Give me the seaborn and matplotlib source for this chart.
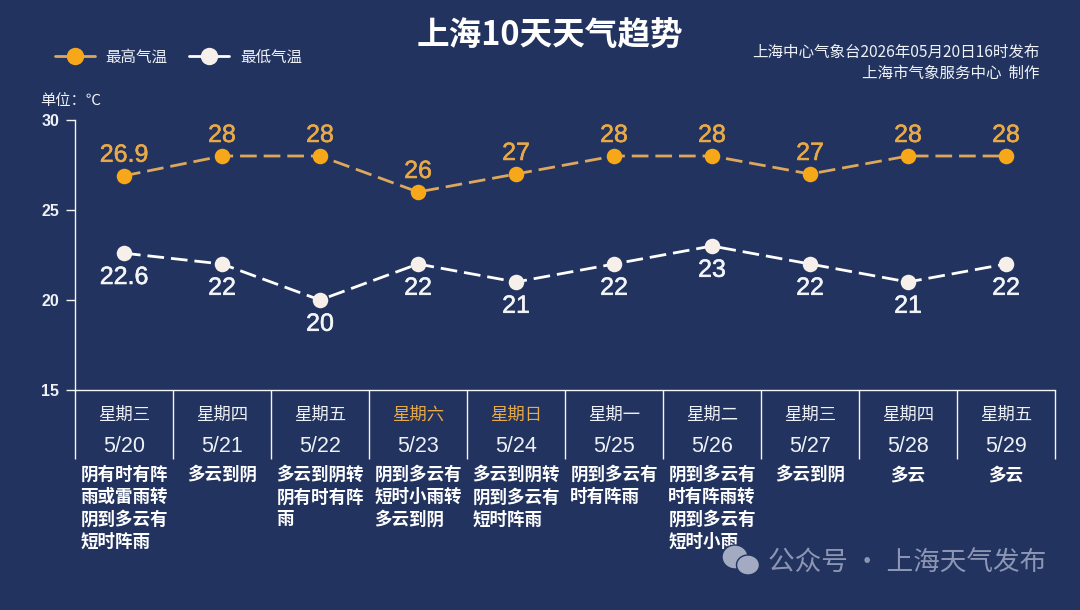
import matplotlib
matplotlib.use('Agg')
import matplotlib.patheffects as pe
import matplotlib.pyplot as plt
import pandas as pd
import seaborn as sns
from matplotlib.lines import Line2D
from matplotlib.patches import Ellipse

dates = ['5/20', '5/21', '5/22', '5/23', '5/24', '5/25', '5/26', '5/27', '5/28', '5/29']
weekdays = ['星期三', '星期四', '星期五', '星期六', '星期日', '星期一', '星期二', '星期三', '星期四', '星期五']
high_temp = [26.9, 28, 28, 26, 27, 28, 28, 27, 28, 28]
low_temp = [22.6, 22, 20, 22, 21, 22, 23, 22, 21, 22]
weather = [
    '阴有时有阵\n雨或雷雨转\n阴到多云有\n短时阵雨',
    '多云到阴',
    '多云到阴转\n阴有时有阵\n雨',
    '阴到多云有\n短时小雨转\n多云到阴',
    '多云到阴转\n阴到多云有\n短时阵雨',
    '阴到多云有\n时有阵雨',
    '阴到多云有\n时有阵雨转\n阴到多云有\n短时小雨',
    '多云到阴',
    '多云',
    '多云',
]
y_ticks = [15, 20, 25, 30]

BG = '#22335F'
ORANGE = '#F6A81A'
ORANGE_LINE = '#DDA75C'
ORANGE_TEXT = '#E8AA48'
WHITE_DOT = '#F7EFEA'
TEXT = '#EEF1F6'

sns.set_theme(style='white')
plt.rcParams['font.family'] = ['Noto Sans CJK SC', 'DejaVu Sans']
NUM_FONT = ['Liberation Sans', 'Noto Sans CJK SC']


def fx(px):
    return px / 1080


def fy(py):
    return 1 - py / 610


fig = plt.figure(figsize=(10.8, 6.1), dpi=100, facecolor=BG)
ax = fig.add_axes([fx(75), fy(390), fx(980), 270 / 610], facecolor=BG)

df = pd.DataFrame({'day': range(10), 'high': high_temp, 'low': low_temp})

# dashed temperature lines
sns.lineplot(data=df, x='day', y='high', ax=ax, color=ORANGE_LINE, lw=2, clip_on=False)
sns.lineplot(data=df, x='day', y='low', ax=ax, color='white', lw=2, clip_on=False)
ax.lines[0].set_dashes((6, 2.5))
ax.lines[1].set_dashes((6, 2.5))
sns.scatterplot(data=df, x='day', y='high', ax=ax, color=ORANGE, s=125, linewidth=0, zorder=5)
sns.scatterplot(data=df, x='day', y='low', ax=ax, color=WHITE_DOT, s=125, linewidth=0, zorder=5)

ax.set_xlim(-0.5, 9.5)
ax.set_ylim(15, 30)
ax.set_xlabel('')
ax.set_ylabel('')
ax.set_yticks(y_ticks)
ax.set_yticklabels([str(t) for t in y_ticks], family=NUM_FONT, fontsize=11.5, fontweight='bold', color=TEXT)
ax.tick_params(axis='y', left=True, length=6.5, width=1, color='#F4F4F4', pad=5)

# day separators hang below the axis as long ticks
ax.set_xticks([i - 0.5 for i in range(11)])
ax.set_xticklabels([])
ax.tick_params(axis='x', bottom=True, length=50, width=1, color='#F4F4F4')

for name in ['top', 'right']:
    ax.spines[name].set_visible(False)
for name in ['left', 'bottom']:
    ax.spines[name].set_color('#F4F4F4')
    ax.spines[name].set_linewidth(1)

# value labels
thick = 0.4
for i in range(10):
    ax.annotate(str(high_temp[i]), (i, high_temp[i]), xytext=(0, 6.5), textcoords='offset points',
                ha='center', va='bottom', family=NUM_FONT, fontsize=18, color=ORANGE_TEXT, zorder=6,
                path_effects=[pe.withStroke(linewidth=thick, foreground=ORANGE_TEXT)])
    ax.annotate(str(low_temp[i]), (i, low_temp[i]), xytext=(0, -8.5), textcoords='offset points',
                ha='center', va='top', family=NUM_FONT, fontsize=18, color='#F4F5F8', zorder=6,
                path_effects=[pe.withStroke(linewidth=thick, foreground='#F4F5F8')])

# table under the axis
trans = ax.get_xaxis_transform()
for i in range(10):
    day_color = ORANGE_TEXT if weekdays[i] in ('星期六', '星期日') else TEXT
    ax.text(i, (390 - 415) / 270, weekdays[i], transform=trans, ha='center', va='center',
            fontsize=12.5, color=day_color)
    ax.text(i, (390 - 446) / 270, dates[i], transform=trans, ha='center', va='center',
            family=NUM_FONT, fontsize=15.5, color=TEXT)
    ax.text(i, (390 - 466) / 270, weather[i], transform=trans, ha='center', va='top', multialignment='left',
            fontsize=12.6, fontweight='bold', color='white', linespacing=1.3)

fig.text(fx(550), fy(36), '上海10天天气趋势', ha='center', va='center', fontsize=23.5, fontweight='bold',
         color='white')
fig.text(fx(1040), fy(52), '上海中心气象台2026年05月20日16时发布', ha='right', va='center', fontsize=11.2, color=TEXT)
fig.text(fx(1040), fy(73), '上海市气象服务中心  制作', ha='right', va='center', fontsize=11.2, color=TEXT)
fig.text(fx(40), fy(101), '单位：℃', ha='left', va='center', fontsize=11, color=TEXT)

handles = [
    Line2D([], [], color=ORANGE_LINE, lw=2, marker='o', ms=11.5, mfc=ORANGE, mec=ORANGE),
    Line2D([], [], color='white', lw=2, marker='o', ms=11.5, mfc=WHITE_DOT, mec=WHITE_DOT),
]
fig.legend(handles, ['最高气温', '最低气温'], loc='center left', bbox_to_anchor=(fx(55), fy(57)), ncol=2,
           frameon=False, fontsize=11.2, labelcolor=TEXT, handlelength=2.55, handletextpad=0.7,
           columnspacing=1.4, borderpad=0, borderaxespad=0)

# watermark
fig.text(fx(768), fy(563), '公众号 · 上海天气发布', ha='left', va='center', fontsize=19.2, color='#8C96B4')
for cx, cy, w, h in [(735, 557, 26, 24), (748, 565, 23, 20)]:
    fig.add_artist(Ellipse((fx(cx), fy(cy)), fx(w), h / 610, transform=fig.transFigure,
                           facecolor='#A3ABC3', edgecolor=BG, lw=1))

fig.savefig('out.png', dpi=100, facecolor=BG)
